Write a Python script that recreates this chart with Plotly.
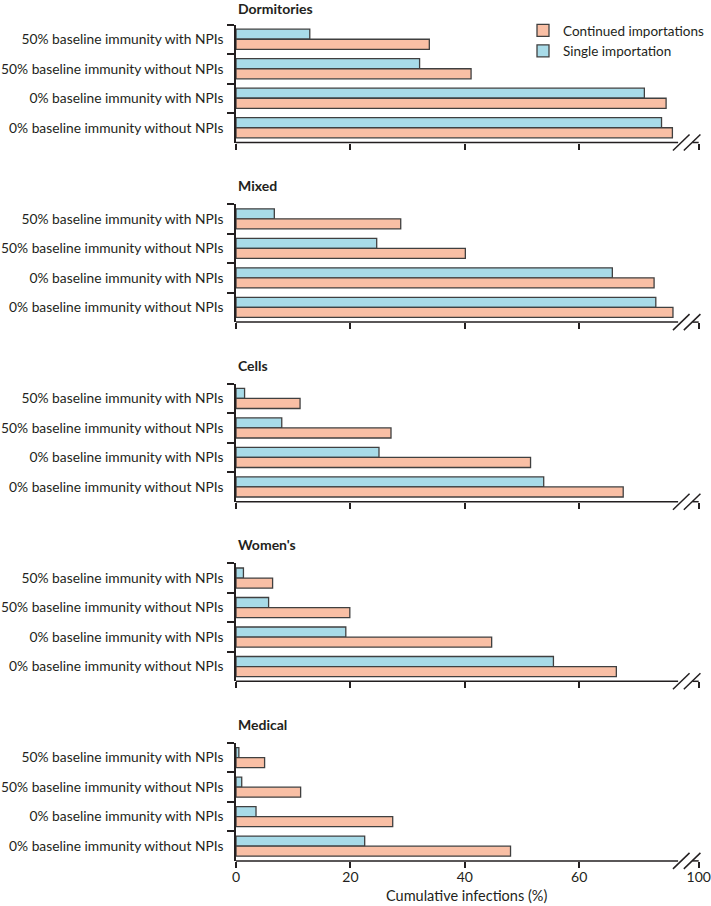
import plotly.graph_objects as go
from plotly.subplots import make_subplots

# ---------------- data ----------------
settings = ["Dormitories", "Mixed", "Cells", "Women's", "Medical"]
scenarios = [
    "50% baseline immunity with NPIs",
    "50% baseline immunity without NPIs",
    "0% baseline immunity with NPIs",
    "0% baseline immunity without NPIs",
]

single_dormitories = [12.9, 32.1, 71.4, 74.4]
single_mixed = [6.7, 24.6, 65.8, 73.4]
single_cells = [1.5, 8.0, 25.0, 53.8]
single_womens = [1.3, 5.7, 19.2, 55.5]
single_medical = [0.5, 1.0, 3.5, 22.5]

continued_dormitories = [33.8, 41.1, 75.2, 76.3]
continued_mixed = [28.8, 40.1, 73.1, 76.4]
continued_cells = [11.2, 27.1, 51.5, 67.7]
continued_womens = [6.4, 19.9, 44.7, 66.5]
continued_medical = [5.0, 11.3, 27.4, 48.0]

single_values = [single_dormitories, single_mixed, single_cells, single_womens, single_medical]
continued_values = [continued_dormitories, continued_mixed, continued_cells, continued_womens, continued_medical]

x_tick_vals = [0, 20, 40, 60, 80.9]
x_tick_text = ["0", "20", "40", "60", "100"]
x_title = "Cumulative infections (%)"

# ---------------- style ----------------
W, H = 711, 906
FONT = "Lato"
TXT = "#231F20"
BLUE = "#A8DBE8"
ORANGE = "#F9BFA5"
EDGE = "#404040"

M_T, M_B, M_L, M_R = 24, 45, 236, 2
PH = H - M_T - M_B
PW = W - M_L - M_R
axis_px = [142.5 + 179.6 * k for k in range(5)]
PANEL_H = 118


def py(px):
    return min(1.0, max(0.0, (H - M_B - px) / PH))


def py_free(px):
    return (H - M_B - px) / PH


fig = make_subplots(rows=5, cols=1, vertical_spacing=0.02)

for k, name in enumerate(settings):
    r = k + 1
    fig.add_trace(go.Bar(
        y=scenarios, x=single_values[k], orientation="h",
        name="Single importation", legendgroup="single", showlegend=(k == 0),
        marker=dict(color=BLUE, line=dict(color=EDGE, width=1.3)),
    ), row=r, col=1)
    fig.add_trace(go.Bar(
        y=scenarios, x=continued_values[k], orientation="h",
        name="Continued importations", legendgroup="cont", showlegend=(k == 0),
        marker=dict(color=ORANGE, line=dict(color=EDGE, width=1.3)),
    ), row=r, col=1)

    bottom = axis_px[k]
    top = bottom - PANEL_H
    fig.update_yaxes(
        row=r, col=1,
        domain=[py(bottom), py(top)],
        type="category", categoryorder="array", categoryarray=scenarios,
        range=[3.5, -0.5], automargin=False,
        showline=True, linecolor=TXT, linewidth=1.5,
        ticks="outside", tickson="boundaries", ticklen=7, tickwidth=1.5, tickcolor=TXT,
        ticklabelstandoff=8,
        tickfont=dict(family=FONT, size=13.8, color=TXT),
        showgrid=False, zeroline=False,
    )
    fig.update_xaxes(
        row=r, col=1,
        range=[0, 82.7], automargin=False,
        showline=False, showgrid=False, zeroline=False,
        ticks="outside", ticklen=6, tickwidth=1.5, tickcolor=TXT,
        tickvals=x_tick_vals, ticktext=x_tick_text,
        showticklabels=(k == 4), ticklabelstandoff=-3,
        tickfont=dict(family=FONT, size=14, color=TXT),
    )

    xref = "x" if k == 0 else f"x{r}"
    yref = ("y" if k == 0 else f"y{r}") + " domain"
    # broken x axis line
    for x0, x1 in [(0, 77.3), (79.8, 80.9)]:
        fig.add_shape(type="line", xref=xref, yref=yref, x0=x0, x1=x1, y0=0, y1=0,
                      line=dict(color=TXT, width=1.5))
    for x0, x1 in [(76.4, 79.3), (78.3, 81.2)]:
        fig.add_shape(type="line", xref=xref, yref=yref, x0=x0, x1=x1,
                      ysizemode="pixel", yanchor=0, y0=-8, y1=8,
                      line=dict(color=TXT, width=1.5))

    title_center = max(top - 18.5, 9)
    fig.add_annotation(
        text=f"<b>{name}</b>", xref="paper", yref="paper",
        x=0, y=py_free(title_center), xanchor="left", yanchor="middle", showarrow=False,
        font=dict(family=FONT, size=14, color=TXT),
    )

# x-axis title (bottom panel)
fig.add_annotation(
    text=x_title, xref="paper", yref="paper",
    x=(466 - M_L) / PW, y=py_free(896), xanchor="center", yanchor="middle", showarrow=False,
    font=dict(family=FONT, size=14.5, color=TXT),
)

fig.update_layout(
    width=W, height=H,
    margin=dict(l=M_L, r=M_R, t=M_T, b=M_B),
    paper_bgcolor="white", plot_bgcolor="white",
    barmode="group", bargap=0.32, bargroupgap=0,
    font=dict(family=FONT, size=14, color=TXT),
    legend=dict(
        x=1.0, y=py_free(15), xanchor="right", yanchor="top",
        traceorder="reversed", tracegroupgap=0,
        font=dict(family=FONT, size=13.5, color=TXT),
        bgcolor="rgba(0,0,0,0)", itemwidth=30,
    ),
)

fig.write_html("out.html", config={"displayModeBar": False},
               post_script="document.body.style.margin='0';")
